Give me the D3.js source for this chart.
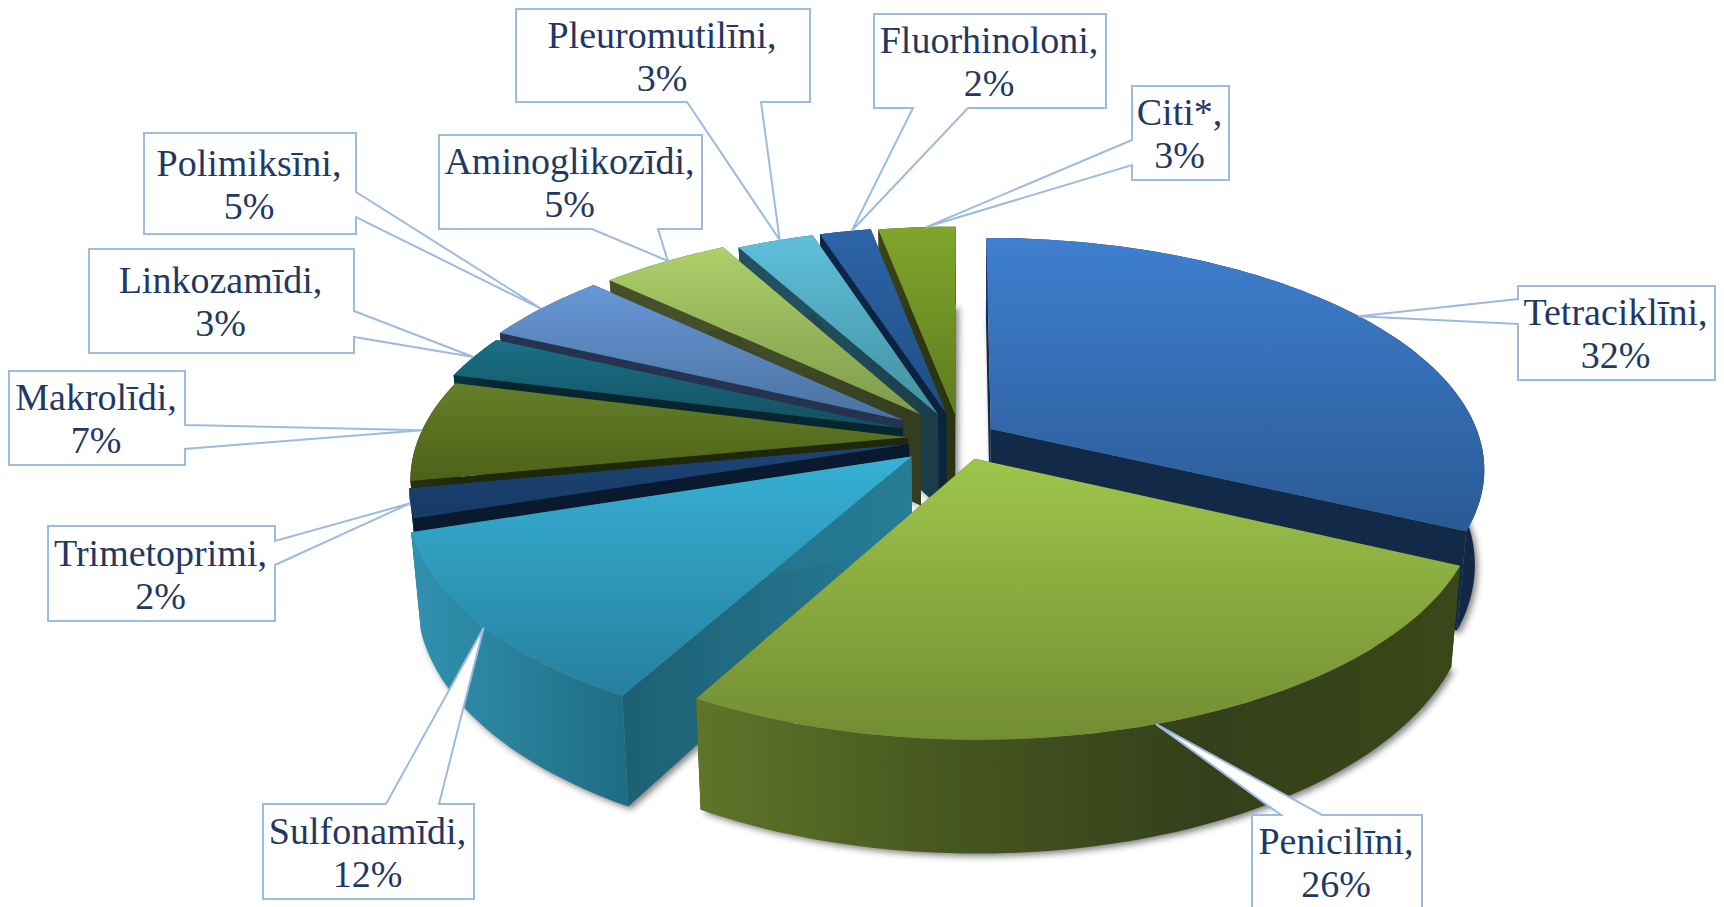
<!DOCTYPE html>
<html>
<head>
<meta charset="utf-8">
<title>Antibiotiku grupas</title>
<script src="https://cdnjs.cloudflare.com/ajax/libs/d3/7.8.5/d3.min.js"></script>
<style>
  html, body { margin: 0; background: #fff; overflow: hidden; }
  text { font-family: "Liberation Serif", serif; fill: #1f3864; text-anchor: middle; }
</style>
</head>
<body>
<svg id="chart" width="1724" height="907"></svg>
<script>
var names = ["Tetraciklīni", "Penicilīni", "Sulfonamīdi", "Trimetoprimi", "Makrolīdi", "Linkozamīdi",
             "Polimiksīni", "Aminoglikozīdi", "Pleuromutilīni", "Fluorhinoloni", "Citi*"];
var values = [32, 26, 12, 2, 7, 3, 5, 5, 3, 2, 3];

// how far each slice is pulled out, in pie radii
var explode = [0.075, 0.095, 0.127, 0.107, 0.107, 0.125, 0.14, 0.135, 0.115, 0.115, 0.11];
// where along its rim each callout points, 0 = slice start, 1 = slice end
var tipAt = [0.49, 0.505, 0.47, 0.5, 0.5, 0.5, 0.47, 0.53, 0.56, 0.63, 0.62];

var topColors = [["#3f7fd0", "#2a5a94"], ["#9ec64a", "#728d33"], ["#36b0d4", "#26809e"], ["#1c4474", "#173a66"],
                 ["#647f28", "#4d6219"], ["#1b7086", "#124f5f"], ["#6797d6", "#4a72a0"], ["#aed06a", "#7f9a4b"],
                 ["#5fc0dc", "#42909f"], ["#2c64a8", "#1f4d84"], ["#80a62c", "#5e7c1d"]];
var rimColors = [["#1a3560", "#112744"], ["#5f7529", "#46561f", "#33401a", "#3a4718"], ["#3192b0", "#1f6c84"], ["#0e2440", "#0a1a30"],
                 ["#2a330e", "#20280a"], ["#0a3440", "#06252e"], ["#25334f", "#25334f"], ["#45502a", "#45502a"],
                 ["#22505f", "#22505f"], ["#0e2645", "#0e2645"], ["#3a4415", "#2b3310"]];
var cutColors = [["#122a48", "#122a48"], ["#34421a", "#34421a"], ["#1d6074", "#277c96"], ["#0a1a2e", "#0a1a2e"],
                 ["#20280a", "#20280a"], ["#06252e", "#06252e"], ["#25334f", "#25334f"], ["#45502a", "#333c1e"],
                 ["#22505f", "#1b3b47"], ["#0c2340", "#0c2340"], ["#333c13", "#2b3310"]];

// callout boxes, a and b are where the pointer leaves the box edge
var boxes = [
  {x: 1518, y: 286, w: 197, h: 94, side: "left", a: 299, b: 324},
  {x: 1252, y: 815, w: 170, h: 94, side: "top", a: 1281, b: 1322},
  {x: 263, y: 804, w: 211, h: 95, side: "top", a: 386, b: 439},
  {x: 48, y: 526, w: 227, h: 95, side: "right", a: 541, b: 565},
  {x: 9, y: 371, w: 176, h: 94, side: "right", a: 425, b: 449},
  {x: 89, y: 249, w: 265, h: 104, side: "right", a: 311, b: 337},
  {x: 144, y: 133, w: 212, h: 101, side: "right", a: 192, b: 217},
  {x: 439, y: 135, w: 263, h: 94, side: "bottom", a: 592, b: 658},
  {x: 516, y: 9, w: 294, h: 93, side: "bottom", a: 687, b: 761},
  {x: 874, y: 14, w: 232, h: 94, side: "bottom", a: 913, b: 968},
  {x: 1132, y: 86, w: 97, h: 94, side: "left", a: 140, b: 165}
];

var cx = 960, cy = 438, R = 489, Ry = 226, persp = 0.168;
var wallH = 93, wallShrink = 0.018;

var svg = d3.select("#chart");
var defs = svg.append("defs");

function gradient(id, colors, horizontal) {
  var g = defs.append("linearGradient").attr("id", id)
    .attr("x1", 0).attr("y1", 0)
    .attr("x2", horizontal ? 1 : 0).attr("y2", horizontal ? 0 : 1);
  colors.forEach(function(c, k) {
    g.append("stop").attr("offset", k / (colors.length - 1)).attr("stop-color", c);
  });
}

var blur = defs.append("filter").attr("id", "floor")
  .attr("filterUnits", "userSpaceOnUse")
  .attr("x", 0).attr("y", 0).attr("width", 1724).attr("height", 907);
blur.append("feGaussianBlur").attr("stdDeviation", 3);

var pie = d3.pie().sort(null)(values);

// unit disc to screen, with perspective
function project(ux, uy) {
  var s = 1 / (1 - persp * uy);
  return {x: cx + R * ux * s, y: cy + Ry * uy * s, s: s};
}
function lower(p) {
  return {x: cx + (p.x - cx) * (1 - wallShrink), y: p.y + wallH * p.s};
}

var line = d3.line().x(function(p) { return p.x; }).y(function(p) { return p.y; });

var slices = pie.map(function(d, i) {
  var mid = (d.startAngle + d.endAngle) / 2;
  var ox = Math.sin(mid) * explode[i], oy = -Math.cos(mid) * explode[i];
  var span = d.endAngle - d.startAngle;
  var steps = Math.max(8, Math.round(span * 40));
  var rim = d3.range(steps + 1).map(function(k) {
    var a = d.startAngle + span * k / steps;
    return project(ox + Math.sin(a), oy - Math.cos(a));
  });
  var tipAngle = d.startAngle + span * tipAt[i];
  return {
    i: i,
    apex: project(ox, oy),
    rim: rim,
    tip: project(ox + Math.sin(tipAngle), oy - Math.cos(tipAngle))
  };
});

slices.forEach(function(s) {
  gradient("top" + s.i, topColors[s.i], false);
  gradient("rim" + s.i, rimColors[s.i], true);
  gradient("cut" + s.i, cutColors[s.i], true);
});

// soft shadow on the floor under every slice
var shadow = svg.append("g").attr("filter", "url(#floor)").attr("opacity", 0.55)
  .attr("transform", "translate(3,3)");
slices.forEach(function(s) {
  shadow.append("path")
    .attr("d", line([s.apex].concat(s.rim).map(lower)) + "Z")
    .attr("fill", "#222");
});

// back slices first, then round the fan to the front
var order = [0, 10, 9, 8, 7, 6, 5, 4, 3, 2, 1];
var pieG = svg.append("g");
order.forEach(function(i) {
  var s = slices[i];
  var g = pieG.append("g");
  var first = s.rim[0], last = s.rim[s.rim.length - 1];
  [first, last].forEach(function(corner) {
    g.append("path")
      .attr("d", line([s.apex, corner, lower(corner), lower(s.apex)]) + "Z")
      .attr("fill", "url(#cut" + i + ")");
  });
  g.append("path")
    .attr("d", line(s.rim.concat(s.rim.map(lower).reverse())) + "Z")
    .attr("fill", "url(#rim" + i + ")");
  g.append("path")
    .attr("d", line([s.apex].concat(s.rim)) + "Z")
    .attr("fill", "url(#top" + i + ")");
});

function calloutPath(b, tip) {
  var x0 = b.x, y0 = b.y, x1 = b.x + b.w, y1 = b.y + b.h;
  var pts = [[x0, y0]];
  if (b.side === "top") pts.push([b.a, y0], [tip.x, tip.y], [b.b, y0]);
  pts.push([x1, y0]);
  if (b.side === "right") pts.push([x1, b.a], [tip.x, tip.y], [x1, b.b]);
  pts.push([x1, y1]);
  if (b.side === "bottom") pts.push([b.b, y1], [tip.x, tip.y], [b.a, y1]);
  pts.push([x0, y1]);
  if (b.side === "left") pts.push([x0, b.b], [tip.x, tip.y], [x0, b.a]);
  return "M" + pts.join("L") + "Z";
}

var labels = svg.append("g").selectAll("g").data(boxes).enter().append("g");
labels.append("path")
  .attr("d", function(b, i) { return calloutPath(b, slices[i].tip); })
  .attr("fill", "#fff")
  .attr("stroke", "#9dbbdf")
  .attr("stroke-width", 2)
  .attr("stroke-linejoin", "miter");
labels.append("text")
  .attr("x", function(b) { return b.x + b.w / 2 - 1; })
  .attr("y", function(b) { return b.y + b.h / 2 - 8; })
  .attr("font-size", 38)
  .text(function(b, i) { return names[i] + ","; });
labels.append("text")
  .attr("x", function(b) { return b.x + b.w / 2 - 1; })
  .attr("y", function(b) { return b.y + b.h / 2 + 35; })
  .attr("font-size", 38)
  .text(function(b, i) { return values[i] + "%"; });
</script>
</body>
</html>
